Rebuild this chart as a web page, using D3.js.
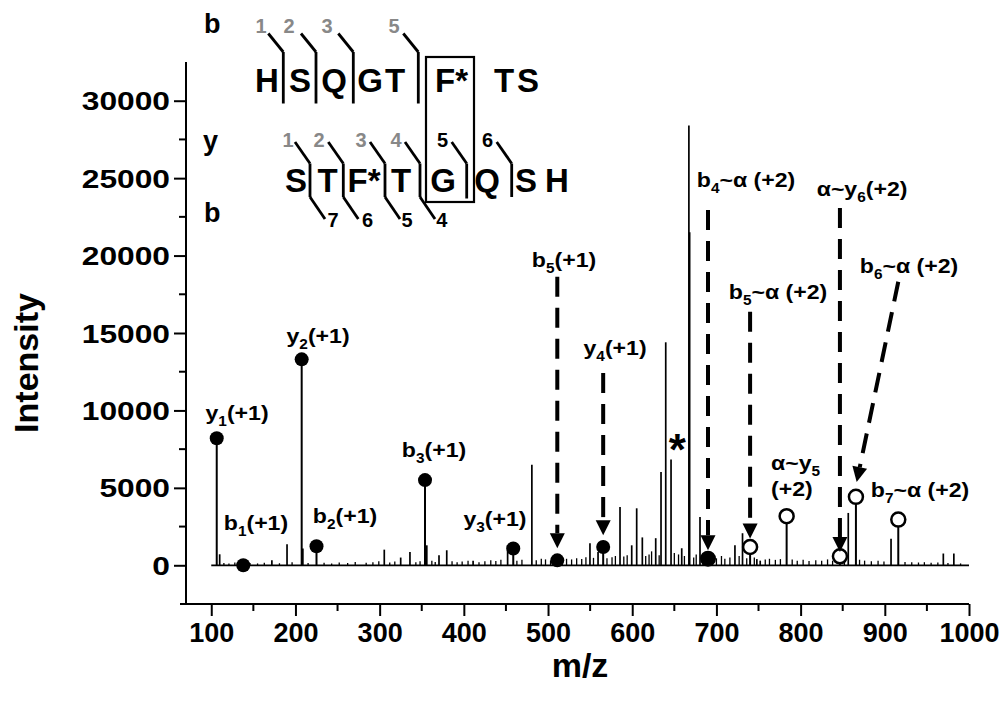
<!DOCTYPE html>
<html><head><meta charset="utf-8">
<script src="https://cdn.jsdelivr.net/npm/d3@7"></script>
<style>
body{margin:0;background:#fff}
svg{display:block}
text{font-family:"Liberation Sans",Arial,Helvetica,sans-serif;font-weight:bold;fill:#000}
</style>
</head><body>
<svg id="c" width="1004" height="706"></svg>
<script>
// ---------------- DATA ----------------
const xTicks = [100,200,300,400,500,600,700,800,900,1000];
const xMinor = [150,250,350,450,550,650,750,850,950];
const yTicks = [0,5000,10000,15000,20000,25000,30000];
const yMinor = [2500,7500,12500,17500,22500,27500];

// assigned fragment ions (m/z, intensity, filled?)
const ionMz   = [106.5,138,207.4,225,353.9,458.7,511,565.5,690,740,783.4,846.7,865.7,916];
const ionInt  = [8200,0,13300,1230,5500,1080,320,1180,430,1180,3170,580,4420,2950];
const ionFill = [true,true,true,true,true,true,true,true,true,false,false,false,false,false];

// other (unassigned) peaks
const peakMz  = [110,172,190,208.8,305.5,325,336,356,370.5,379.7,411,452,480.8,549.8,559.4,585.5,599.4,605.3,612,627.9,634.2,639.8,646.1,658.8,667.3,668.2,680.5,722,731,748,752,856.6,907.4,969.5,982];
const peakInt = [710,320,1360,1080,1010,500,860,1290,650,970,300,1300,6500,1420,860,3770,1290,3680,1800,1750,6030,14400,6830,1100,28400,21500,3120,1290,2070,400,300,3380,1720,760,760];

// low-level baseline noise peaks
const noiseMz  = [115,121,128,146,155,163,181,196,215,234,243,252,262,271,284,292,299,312,318,343,348,362,366,386,392,398,405,418,425,432,438,444,463,469,486,492,497,503,517,522,528,534,540,545,554,570,576,580,590,594,616,620,623,632,650,655,662,673,676,684,695,700,706,710,716,727,736,745,758,763,770,776,790,796,803,810,818,825,832,838,852,870,876,884,892,899,924,932,940,947,955,963,975,990];
const noiseInt = [150,120,180,140,120,160,130,200,150,160,120,180,140,220,160,200,260,180,240,200,260,300,220,260,200,240,300,200,260,320,280,360,300,350,320,420,380,300,360,420,380,460,400,520,480,450,520,600,560,640,600,700,900,650,800,700,600,500,700,600,500,450,600,420,500,600,450,500,380,420,350,400,380,300,350,280,330,300,380,300,420,360,300,260,300,240,220,200,180,200,160,180,150,120];

// peak annotations: label text ({} = subscript), anchor m/z, anchor intensity, alignment
const annText = ["y{1}(+1)","y{2}(+1)","b{1}(+1)","b{2}(+1)","b{3}(+1)","y{3}(+1)","b{5}(+1)","y{4}(+1)",
                 "b{4}~α (+2)","α~y{6}(+2)","b{6}~α (+2)","b{5}~α (+2)","α~y{5}","(+2)","b{7}~α (+2)"];
const annMz   = [130.6,226.8,153.1,258.9,364.6,437,519,579.6,735.2,873,928.8,773.2,764.8,764.8,941.8];
const annInt  = [9375,14353,2263,2715,7002,2521,19286,13577,24459,23857,18879,17198,6142,4461,4416];
const annAlign= ["middle","middle","middle","middle","middle","middle","middle","middle","middle","middle","middle","middle","start","start","middle"];

// dashed arrows: start (m/z, intensity) -> tip (m/z, intensity)
const arrFromMz  = [511,565.5,690,740,846.7,916];
const arrFromInt = [18640,12410,22950,16370,23080,18310];
const arrToMz    = [511,565.5,690,740,846.7,866.6];
const arrToInt   = [1100,1940,970,1730,860,5380];

// peptide sequence diagram
const seqTop = ["H","S","Q","G","T","F*","T","S"];
const seqBottom = ["S","T","F*","T","G","Q","S","H"];
const bTopNums = ["1","2","3","5"];
const yNums = ["1","2","3","4","5","6"];
const bBottomNums = ["7","6","5","4"];

// ---------------- LAYOUT ----------------
const svg = d3.select("#c");
const x = d3.scaleLinear().domain([70,1000]).range([186,969]);
const y = d3.scaleLinear().domain([-2500,32500]).range([604,62]);

function addLabel(g, str, px, py, size, anchor, subSize, subDy, sx){
  const t = g.append("text").attr("transform",`translate(${px},${py}) scale(${sx||1},1)`)
    .attr("font-size",size).attr("text-anchor",anchor||"middle");
  const parts = str.split(/(\{[^}]*\})/).filter(s=>s.length);
  let shifted=false;
  parts.forEach(p=>{
    if(p[0]==="{"){
      t.append("tspan").text(p.slice(1,-1)).attr("font-size",subSize).attr("dy",subDy);
      shifted=true;
    } else {
      const ts=t.append("tspan").text(p);
      if(shifted){ts.attr("dy",-subDy); shifted=false;}
    }
  });
  return t;
}

// axes
const ax = svg.append("g");
ax.append("line").attr("x1",180).attr("x2",x(1000)).attr("y1",604).attr("y2",604)
  .attr("stroke","#000").attr("stroke-width",2);
ax.append("line").attr("x1",186).attr("x2",186).attr("y1",y(32500)).attr("y2",604)
  .attr("stroke","#000").attr("stroke-width",2);

const xAxis = d3.axisBottom(x).tickValues(xTicks).tickSize(12).tickFormat(d3.format("d"));
const gx = svg.append("g").attr("transform","translate(0,604)").call(xAxis);
gx.select(".domain").remove();
gx.selectAll(".tick line").attr("stroke-width",2);
gx.selectAll(".tick text").attr("font-size",27).attr("font-family","Liberation Sans, Arial, sans-serif")
  .attr("font-weight","bold").attr("dy",null).attr("y",38);
svg.append("g").selectAll("line").data(xMinor).join("line")
  .attr("x1",d=>x(d)).attr("x2",d=>x(d)).attr("y1",604).attr("y2",611)
  .attr("stroke","#000").attr("stroke-width",2);

const yAxis = d3.axisLeft(y).tickValues(yTicks).tickSize(12).tickFormat(d3.format("d"));
const gy = svg.append("g").attr("transform","translate(186,0)").call(yAxis);
gy.select(".domain").remove();
gy.selectAll(".tick line").attr("stroke-width",2);
gy.selectAll(".tick text").attr("font-size",25).attr("font-family","Liberation Sans, Arial, sans-serif")
  .attr("font-weight","bold").attr("x",0).attr("dy","0.36em")
  .attr("transform","translate(-16,0) scale(1.27,1)");
svg.append("g").selectAll("line").data(yMinor).join("line")
  .attr("x1",179).attr("x2",186).attr("y1",d=>y(d)).attr("y2",d=>y(d))
  .attr("stroke","#000").attr("stroke-width",2);

// axis titles
svg.append("text").attr("transform","translate(38,363) rotate(-90)")
  .attr("text-anchor","middle").attr("font-size",34).text("Intensity");
svg.append("text").attr("x",580).attr("y",677)
  .attr("text-anchor","middle").attr("font-size",34).text("m/z");

// spectrum
const sp = svg.append("g").attr("stroke","#000");
sp.append("line").attr("x1",x(100)).attr("x2",x(1000)).attr("y1",y(0)).attr("y2",y(0)).attr("stroke-width",1.8);
sp.selectAll(".n").data(noiseMz.map((m,i)=>[m,noiseInt[i]])).join("line")
  .attr("x1",d=>x(d[0])).attr("x2",d=>x(d[0])).attr("y1",y(0)).attr("y2",d=>y(d[1])).attr("stroke-width",1.3);
sp.selectAll(".p").data(peakMz.map((m,i)=>[m,peakInt[i]])).join("line")
  .attr("x1",d=>x(d[0])).attr("x2",d=>x(d[0])).attr("y1",y(0)).attr("y2",d=>y(d[1])).attr("stroke-width",1.7);
sp.selectAll(".i").data(ionMz.map((m,i)=>[m,ionInt[i]])).join("line")
  .attr("x1",d=>x(d[0])).attr("x2",d=>x(d[0])).attr("y1",y(0)).attr("y2",d=>y(d[1])).attr("stroke-width",2);

// ion markers
svg.append("g").selectAll("circle").data(ionMz.map((m,i)=>({m,v:ionInt[i],f:ionFill[i],big:i===8}))).join("circle")
  .attr("cx",d=>x(d.m)).attr("cy",d=>y(d.v)).attr("r",d=>d.big?8:7)
  .attr("fill",d=>d.f?"#000":"#fff").attr("stroke","#000").attr("stroke-width",d=>d.f?0:2.5);

// dashed arrows
const ag = svg.append("g");
arrFromMz.forEach((m,i)=>{
  const x1=x(m), y1=y(arrFromInt[i]), x2=x(arrToMz[i]), y2=y(arrToInt[i]);
  const dx=x2-x1, dy=y2-y1, L=Math.hypot(dx,dy), ux=dx/L, uy=dy/L;
  const hl=15, hw=7.5;
  const bx=x2-ux*hl, by=y2-uy*hl;
  ag.append("line").attr("x1",x1).attr("y1",y1).attr("x2",bx).attr("y2",by)
    .attr("stroke","#000").attr("stroke-width",4).attr("stroke-dasharray","20,11");
  ag.append("path").attr("d",`M${x2},${y2}L${bx-uy*hw},${by+ux*hw}L${bx+uy*hw},${by-ux*hw}Z`).attr("fill","#000");
});

// annotations
const lg = svg.append("g");
annText.forEach((s,i)=>{
  addLabel(lg, s, x(annMz[i]), y(annInt[i]), 21, annAlign[i], 14, 6, 1.1);
});
lg.append("text").attr("x",x(653.5)).attr("y",y(6500)).attr("text-anchor","middle").attr("font-size",44).text("*");

// ---------------- peptide diagram ----------------
const pg = svg.append("g");
const topX = [267,300,334,370,395,451.5,504,528];
const botX = [296,327.5,364,401,443,487,526,557];
seqTop.forEach((s,i)=>pg.append("text").attr("x",topX[i]).attr("y",92).attr("text-anchor","middle").attr("font-size",33).text(s));
seqBottom.forEach((s,i)=>pg.append("text").attr("x",botX[i]).attr("y",192).attr("text-anchor","middle").attr("font-size",33).text(s));
pg.append("text").attr("x",204).attr("y",33).attr("font-size",27).text("b");
pg.append("text").attr("x",203).attr("y",150).attr("font-size",27).text("y");
pg.append("text").attr("x",204).attr("y",222).attr("font-size",27).text("b");

const ln = (x1,y1,x2,y2)=>pg.append("line").attr("x1",x1).attr("y1",y1).attr("x2",x2).attr("y2",y2)
  .attr("stroke","#000").attr("stroke-width",2.8);
// top b cleavages
const topCut=[283.3,316,353.3,418.3], topNumX=[261,289,327,394];
topCut.forEach((cx,i)=>{
  ln(cx-15,33.5,cx,52); ln(cx,52,cx,103.5);
  pg.append("text").attr("x",topNumX[i]).attr("y",33).attr("text-anchor","middle").attr("font-size",20)
    .style("fill","#888").text(bTopNums[i]);
});
// y cleavages
const midCut=[310,343.3,385,420,466.7,511.7], midNumX=[288,319,361,396,442.5,487.5];
midCut.forEach((cx,i)=>{
  ln(cx-15,142,cx,163.5); ln(cx,163.5,cx,i===4?198.5:197);
  pg.append("text").attr("x",midNumX[i]).attr("y",147).attr("text-anchor","middle").attr("font-size",20)
    .style("fill",i<4?"#888":"#000").text(yNums[i]);
});
// bottom b cleavages
const botNumX=[333,367.5,407,441.7];
[0,1,2,3].forEach(i=>{
  const cx=midCut[i];
  ln(cx,197,cx+15,219);
  pg.append("text").attr("x",botNumX[i]).attr("y",227).attr("text-anchor","middle").attr("font-size",20).text(bBottomNums[i]);
});
pg.append("rect").attr("x",426).attr("y",57).attr("width",48).attr("height",145)
  .attr("fill","none").attr("stroke","#000").attr("stroke-width",2.2);
</script>
</body></html>
